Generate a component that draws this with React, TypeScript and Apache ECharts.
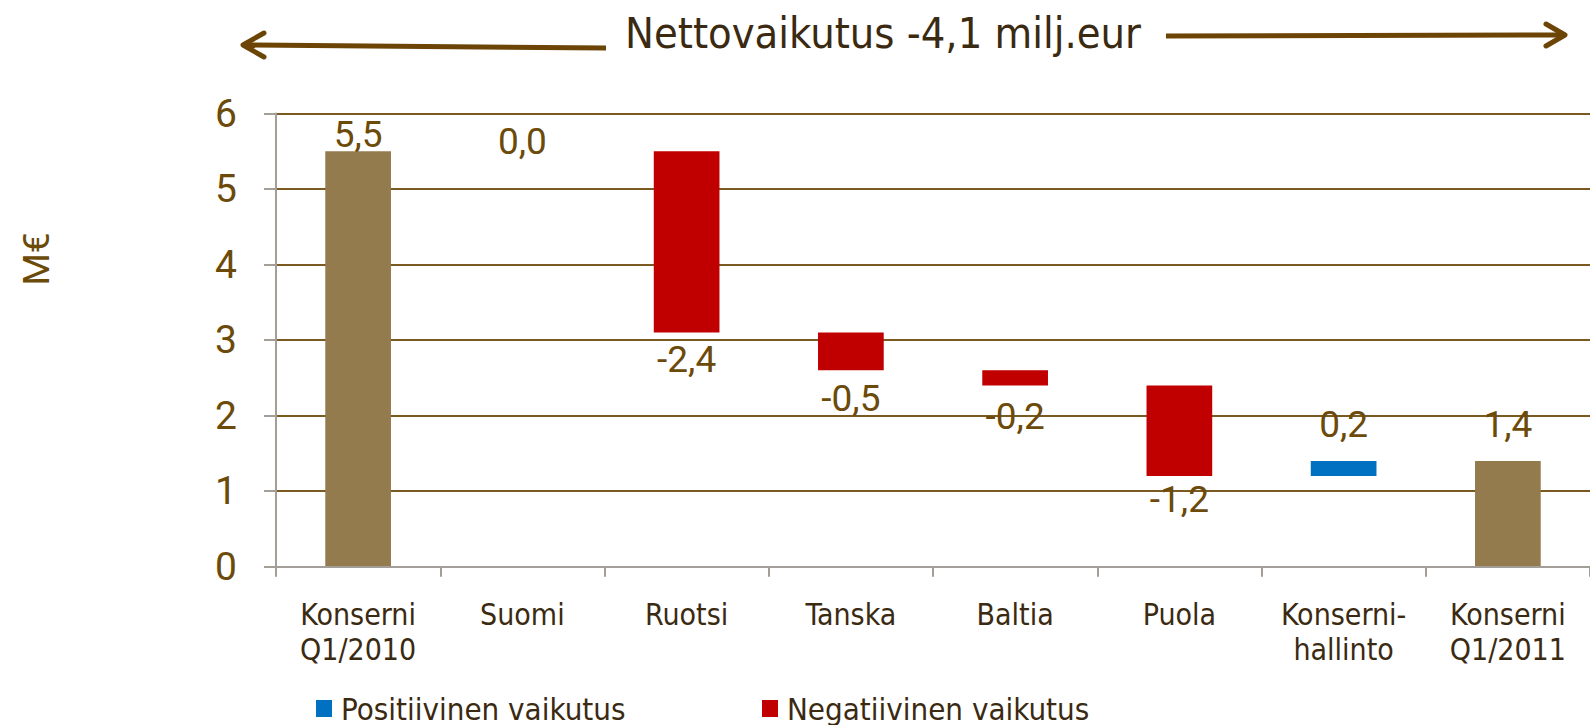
import React, { useEffect, useRef } from "react";
import * as echarts from "echarts";

// ---- data ----
const categories = [
  "Konserni\nQ1/2010",
  "Suomi",
  "Ruotsi",
  "Tanska",
  "Baltia",
  "Puola",
  "Konserni-\nhallinto",
  "Konserni\nQ1/2011",
];
// totals (start / end)
const totalValues: (number | null)[] = [5.5, null, null, null, null, null, null, 1.4];
// changes between the totals
const changeValues: (number | null)[] = [null, 0.0, -2.4, -0.5, -0.2, -1.2, 0.2, null];
const yTicks = [0, 1, 2, 3, 4, 5, 6];
const titleText = "Nettovaikutus -4,1 milj.eur";
const posName = "Positiivinen vaikutus";
const negName = "Negatiivinen vaikutus";

// label gap (style) per category
const labelGap = [-2, -9, 8, 10, 13, 5, 18, 18];

const BROWN_TEXT = "#6B4A0A";
const DARK_TEXT = "#3B2A12";
const ARROW = "#6B4406";
const COND = "'DejaVu Sans Condensed', 'Open Sans', sans-serif";

const fmt = (v: number) => v.toFixed(1).replace(".", ",");
const r1 = (v: number) => Math.round(v * 10) / 10;

function buildSeries() {
  const base: (number | string)[] = [];
  const tot: any[] = [];
  const pos: any[] = [];
  const neg: any[] = [];
  let running = 0;
  categories.forEach((_, i) => {
    const t = totalValues[i];
    const c = changeValues[i];
    if (t !== null) {
      running = t;
      base.push(0);
      tot.push({ value: t, label: { distance: labelGap[i] } });
      pos.push("-");
      neg.push("-");
    } else if (c !== null) {
      const before = running;
      const after = r1(running + c);
      base.push(Math.min(before, after));
      running = after;
      tot.push("-");
      if (c >= 0) {
        pos.push({ value: c, label: { distance: labelGap[i] } });
        neg.push("-");
      } else {
        neg.push({ value: r1(-c), label: { distance: labelGap[i] } });
        pos.push("-");
      }
    }
  });
  return { base, tot, pos, neg };
}

export default function App() {
  const ref = useRef<HTMLDivElement>(null);
  useEffect(() => {
    if (!ref.current) return;
    const chart = echarts.init(ref.current, undefined, { renderer: "svg" });
    const { base, tot, pos, neg } = buildSeries();
    const labelStyle = {
      show: true,
      fontFamily: "Roboto, sans-serif",
      fontSize: 37,
      color: BROWN_TEXT,
    };
    const legendCommon = {
      top: 693,
      padding: 0,
      icon: "rect",
      itemWidth: 16,
      itemHeight: 17,
      selectedMode: false,
      textStyle: {
        fontFamily: COND,
        fontSize: 31,
        color: DARK_TEXT,
        padding: [0, 0, 0, 4],
      },
    };
    chart.setOption({
      animation: false,
      grid: { left: 276, top: 113.5, width: 1326, height: 453.2 },
      legend: [
        { ...legendCommon, left: 316, data: [posName] },
        { ...legendCommon, left: 762, data: [negName] },
      ],
      xAxis: {
        type: "category",
        data: categories,
        z: 3,
        axisLine: { lineStyle: { color: "#A39E98", width: 2 } },
        axisTick: { show: true, length: 10, lineStyle: { color: "#A39E98", width: 2 } },
        axisLabel: {
          interval: 0,
          margin: 30,
          fontFamily: COND,
          fontSize: 30,
          lineHeight: 35,
          color: DARK_TEXT,
          align: "center",
        },
      },
      yAxis: {
        type: "value",
        min: yTicks[0],
        max: yTicks[yTicks.length - 1],
        interval: 1,
        axisLine: { show: true, lineStyle: { color: "#A39E98", width: 2 } },
        axisTick: { show: true, length: 12, lineStyle: { color: "#A39E98", width: 2 } },
        splitLine: { lineStyle: { color: "#7A5A20", width: 2 } },
        axisLabel: {
          margin: 39,
          fontFamily: "Roboto, sans-serif",
          fontSize: 39,
          color: BROWN_TEXT,
        },
      },
      series: [
        {
          name: "base",
          type: "bar",
          stack: "w",
          barWidth: "40%",
          itemStyle: { color: "transparent" },
          data: base,
          silent: true,
        },
        {
          name: "Konserni",
          type: "bar",
          stack: "w",
          barWidth: "40%",
          itemStyle: { color: "#937B4E" },
          label: { ...labelStyle, position: "top", formatter: (p: any) => fmt(p.value) },
          data: tot,
        },
        {
          name: posName,
          type: "bar",
          stack: "w",
          barWidth: "40%",
          itemStyle: { color: "#0070C0" },
          label: { ...labelStyle, position: "top", formatter: (p: any) => fmt(p.value) },
          data: pos,
        },
        {
          name: negName,
          type: "bar",
          stack: "w",
          barWidth: "40%",
          itemStyle: { color: "#C00000" },
          label: {
            ...labelStyle,
            position: "bottom",
            formatter: (p: any) => fmt(changeValues[p.dataIndex] as number),
          },
          data: neg,
        },
      ],
      graphic: [
        {
          type: "text",
          x: 883,
          y: 33,
          style: {
            text: titleText,
            font: `43px ${COND}`,
            fill: DARK_TEXT,
            align: "center",
            verticalAlign: "middle",
          },
        },
        {
          type: "text",
          x: 36,
          y: 259,
          rotation: Math.PI / 2,
          style: {
            text: "M€",
            font: "37px Roboto, sans-serif",
            fill: BROWN_TEXT,
            align: "center",
            verticalAlign: "middle",
          },
        },
        // left arrow
        {
          type: "line",
          shape: { x1: 606, y1: 48, x2: 246, y2: 45 },
          style: { stroke: ARROW, lineWidth: 5 },
        },
        {
          type: "polyline",
          shape: { points: [[264, 33], [243, 45], [264, 57]] },
          style: { stroke: ARROW, lineWidth: 5, fill: "none", lineCap: "round", lineJoin: "round" },
        },
        // right arrow
        {
          type: "line",
          shape: { x1: 1166, y1: 36, x2: 1562, y2: 35 },
          style: { stroke: ARROW, lineWidth: 5 },
        },
        {
          type: "polyline",
          shape: { points: [[1546, 24], [1565, 35], [1546, 46]] },
          style: { stroke: ARROW, lineWidth: 5, fill: "none", lineCap: "round", lineJoin: "round" },
        },
      ],
    });
    return () => chart.dispose();
  }, []);
  return (
    <div
      ref={ref}
      style={{ position: "absolute", left: 0, top: 0, width: 1590, height: 725, background: "#fff" }}
    />
  );
}
